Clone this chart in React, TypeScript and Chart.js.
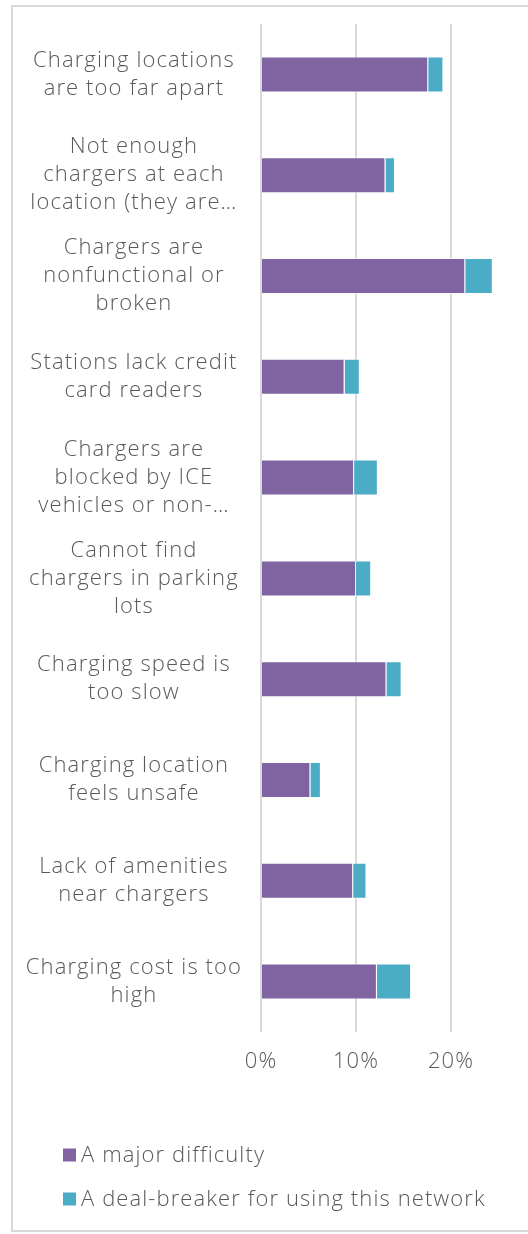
import React, { useEffect, useRef } from "react";
import { Chart, registerables } from "chart.js";

Chart.register(...registerables);

const categories: string[][] = [
  ["Charging locations", "are too far apart"],
  ["Not enough", "chargers at each", "location (they are…"],
  ["Chargers are", "nonfunctional or", "broken"],
  ["Stations lack credit", "card readers"],
  ["Chargers are", "blocked by ICE", "vehicles or non-…"],
  ["Cannot find", "chargers in parking", "lots"],
  ["Charging speed is", "too slow"],
  ["Charging location", "feels unsafe"],
  ["Lack of amenities", "near chargers"],
  ["Charging cost is too", "high"],
];

const majorDifficulty: number[] = [17.6, 13.1, 21.5, 8.8, 9.8, 10.0, 13.2, 5.2, 9.7, 12.2];
const dealBreaker: number[] = [1.6, 1.0, 2.9, 1.6, 2.5, 1.6, 1.6, 1.1, 1.4, 3.6];

const seriesLabels: string[] = ["A major difficulty", "A deal-breaker for using this network"];
const seriesColors: string[] = ["#8064a2", "#4bacc6"];

const xTicks: number[] = [0, 10, 20];

const FONT = "'Open Sans', Lato, sans-serif";
const WEIGHT = 300;
const SIZE = 22;
const SPACING = "1.1px";
const TEXT = "#595959";

const spacingPlugin = {
  id: "letterSpacing",
  beforeUpdate(chart: any) {
    chart.ctx.letterSpacing = SPACING;
  },
  beforeDraw(chart: any) {
    chart.ctx.letterSpacing = SPACING;
  },
};

const legendPlugin = {
  id: "stackedLegend",
  afterDraw(chart: any) {
    const ctx = chart.ctx;
    const h = chart.height;
    const ys = [h - 75, h - 31];
    ctx.save();
    ctx.letterSpacing = SPACING;
    ctx.font = `${WEIGHT} ${SIZE}px ${FONT}`;
    ctx.textBaseline = "middle";
    ctx.textAlign = "left";
    chart.data.datasets.forEach((ds: any, i: number) => {
      const y = ys[i];
      ctx.fillStyle = ds.backgroundColor;
      ctx.fillRect(50, y - 6.5, 13, 13);
      ctx.fillStyle = TEXT;
      ctx.fillText(ds.label, 68, y + 1);
    });
    ctx.restore();
  },
};

export default function App() {
  const ref = useRef<HTMLCanvasElement | null>(null);

  useEffect(() => {
    if (!ref.current) return;
    const chart = new Chart(ref.current, {
      type: "bar",
      data: {
        labels: categories,
        datasets: [
          {
            label: seriesLabels[0],
            data: majorDifficulty,
            backgroundColor: seriesColors[0],
            borderColor: "rgba(255,255,255,0.55)",
            borderWidth: 1,
            barPercentage: 0.357,
            categoryPercentage: 1,
          },
          {
            label: seriesLabels[1],
            data: dealBreaker,
            backgroundColor: seriesColors[1],
            borderColor: "rgba(255,255,255,0.55)",
            borderWidth: 1,
            barPercentage: 0.357,
            categoryPercentage: 1,
          },
        ],
      },
      options: {
        indexAxis: "y",
        responsive: false,
        animation: false,
        layout: { padding: { top: 17, right: 27, bottom: 138, left: 0 } },
        plugins: {
          legend: { display: false },
          tooltip: { enabled: false },
        },
        scales: {
          x: {
            stacked: true,
            min: 0,
            max: 30,
            afterBuildTicks: (scale: any) => {
              scale.ticks = xTicks.map((v) => ({ value: v }));
            },
            afterFit: (scale: any) => {
              scale.height = 60;
              scale.paddingLeft = 0;
              scale.paddingRight = 0;
            },
            ticks: {
              callback: (v: any) => `${v}%`,
              color: TEXT,
              font: { family: FONT, size: SIZE, weight: WEIGHT },
              padding: 17,
              maxRotation: 0,
            },
            grid: { color: "#d9d9d9", lineWidth: 2, drawTicks: false },
            border: { display: false },
          },
          y: {
            stacked: true,
            afterFit: (scale: any) => {
              scale.width = 248;
              scale.paddingTop = 0;
              scale.paddingBottom = 0;
            },
            ticks: {
              crossAlign: "center",
              color: TEXT,
              font: { family: FONT, size: SIZE, weight: WEIGHT, lineHeight: 28 / SIZE },
              padding: 19,
              autoSkip: false,
            },
            grid: { display: false, drawTicks: false },
            border: { display: false },
          },
        },
      },
      plugins: [spacingPlugin, legendPlugin],
    });
    return () => chart.destroy();
  }, []);

  return (
    <div
      style={{
        position: "fixed",
        left: 0,
        top: 0,
        width: 528,
        height: 1234,
        overflow: "hidden",
        background: "#fff",
      }}
    >
      <div
        style={{
          position: "absolute",
          left: 11,
          top: 5,
          width: 600,
          height: 1227,
          border: "2px solid #d9d9d9",
          boxSizing: "border-box",
          background: "#fff",
        }}
      >
        <canvas ref={ref} width={560} height={1223} style={{ display: "block" }} />
      </div>
    </div>
  );
}
